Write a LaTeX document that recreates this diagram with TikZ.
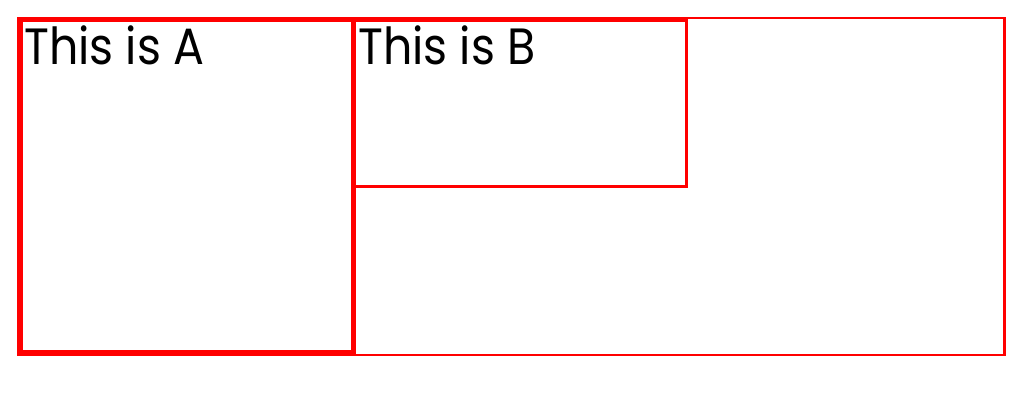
\documentclass[tikz,border=0pt]{standalone}
\usepackage{fontspec}
\setmainfont{Poppins}

\begin{document}
\begin{tikzpicture}[x=1pt,y=-1pt,
    frame/.style={draw=red, line width=#1},
    label/.style={anchor=base west, inner sep=0pt, font=\fontsize{51}{51}\selectfont\addfontfeatures{FakeStretch=0.9}}]
        \useasboundingbox (0,0) rectangle (1033,400);
        % outer frame
        \draw[frame=2.5] (18,18) rectangle (1004.5,355);
        % box A and box B
        \draw[frame=5.5] (20,19.5) rectangle (353.5,352.5);
        \draw[frame=3] (354,20) rectangle (686.5,186.5);
        \node[label] (a) at (24,64) {This is A};
        \node[label] (b) at (358,64) {This is B};
    \end{tikzpicture}
\end{document}
